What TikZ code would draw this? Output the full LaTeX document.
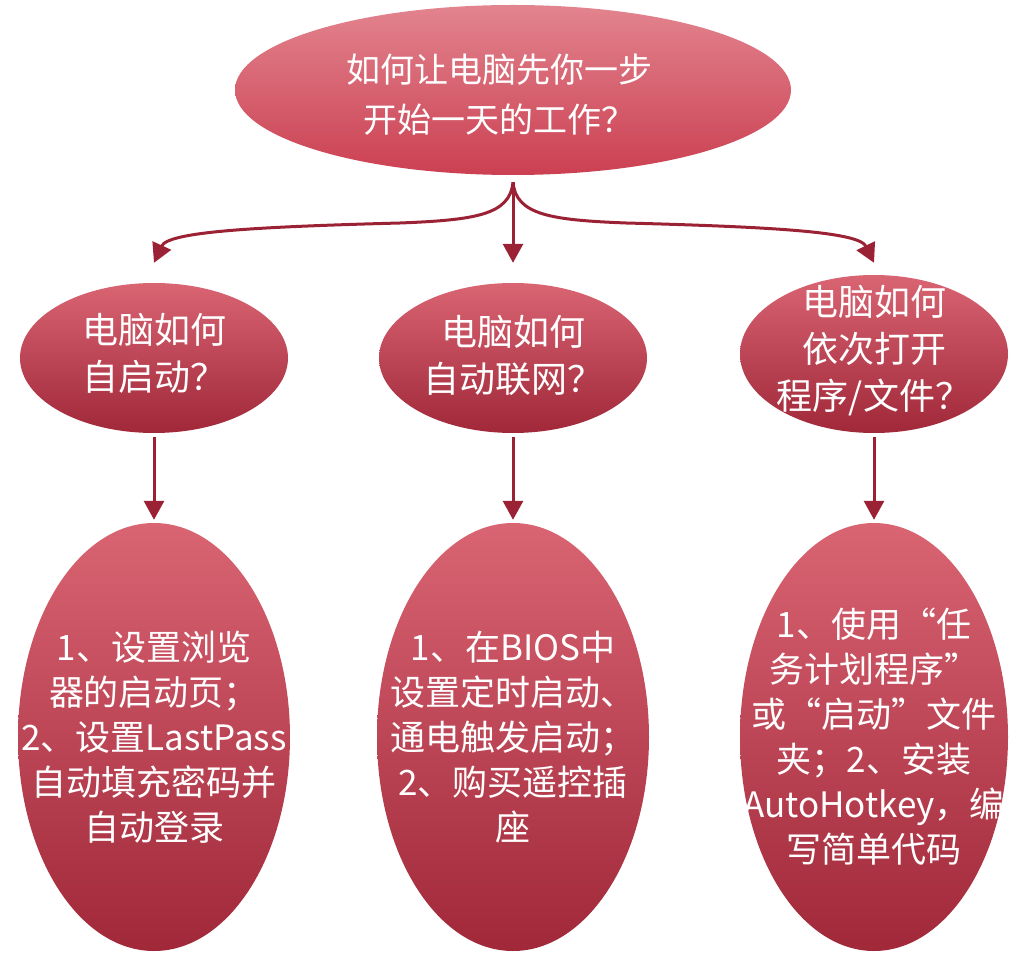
\documentclass[tikz,border=0pt]{standalone}
\usepackage{fontspec}
\newfontfamily\cjk{Noto Sans CJK SC}
\usetikzlibrary{shapes.geometric,arrows.meta}
\definecolor{linered}{RGB}{155,34,52}
\definecolor{toptop}{RGB}{226,132,142}
\definecolor{topbot}{RGB}{203,64,82}
\definecolor{midtop}{RGB}{217,100,114}
\definecolor{midbot}{RGB}{160,40,57}
\begin{document}
\begin{tikzpicture}[x=1pt,y=-1pt,
  bubble/.style={ellipse, draw=none, inner sep=0pt, top color=midtop, bottom color=midbot},
  topbubble/.style={bubble, top color=toptop, bottom color=topbot},
  bigtext/.style={text=white, align=center, font=\cjk\fontsize{34}{50}\selectfont},
  midtext/.style={text=white, align=center, font=\cjk\fontsize{36}{47}\selectfont},
  lowtext/.style={text=white, align=center, font=\cjk\fontsize{35}{45}\selectfont},
  conn/.style={draw=linered, line width=3pt, -{Triangle[width=20pt,length=19pt]}}
]
\useasboundingbox (0,0) rectangle (1020,957);

% nodes
\node[topbubble, minimum width=556pt, minimum height=170pt] (top) at (513,90) {};
\node[bigtext] (toplbl) at ([xshift=-14pt,yshift=-5pt]top.center) {如何让电脑先你一步\\开始一天的工作？};

\node[bubble, minimum width=268pt, minimum height=150pt] (a1) at (154,358) {};
\node[bubble, minimum width=268pt, minimum height=150pt] (b1) at (513,358) {};
\node[bubble, minimum width=268pt, minimum height=158pt] (c1) at (874,354) {};
\node[midtext] (a1lbl) at ([yshift=5pt]a1.center) {电脑如何\\自启动？};
\node[midtext] (b1lbl) at ([yshift=3pt]b1.center) {电脑如何\\自动联网？};
\node[midtext] (c1lbl) at ([yshift=3pt]c1.center) {电脑如何\\依次打开\\程序/文件？};

\node[bubble, minimum width=272pt, minimum height=428pt] (a2) at (154,737) {};
\node[bubble, minimum width=272pt, minimum height=428pt] (b2) at (513,737) {};
\node[bubble, minimum width=268pt, minimum height=428pt] (c2) at (874,737) {};
\node[lowtext] (a2lbl) at (a2.center) {1、设置浏览\\器的启动页；\\2、设置LastPass\\自动填充密码并\\自动登录};
\node[lowtext] (b2lbl) at (b2.center) {1、在BIOS中\\设置定时启动、\\通电触发启动；\\2、购买遥控插\\座};
\node[lowtext] (c2lbl) at (c2.center) {1、使用“任\\务计划程序”\\或“启动”文件\\夹；2、安装\\AutoHotkey，编\\写简单代码};

% connectors from the top
\draw[conn] ([yshift=-7pt]top.south) .. controls (510,215) and (475,220) .. (400,223)
  .. controls (250,227) and (168,232) .. ([yshift=20pt]a1.north);
\draw[conn] ([yshift=-7pt]top.south) -- ([yshift=20pt]b1.north);
\draw[conn] ([yshift=-7pt]top.south) .. controls (516,215) and (551,220) .. (626,223)
  .. controls (776,227) and (859,232) .. ([yshift=12pt]c1.north);

% connectors down
\draw[conn] ([yshift=-4pt]a1.south) -- ([yshift=3pt]a2.north);
\draw[conn] ([yshift=-4pt]b1.south) -- ([yshift=3pt]b2.north);
\draw[conn] ([yshift=-4pt]c1.south) -- ([yshift=3pt]c2.north);
\end{tikzpicture}
\end{document}
